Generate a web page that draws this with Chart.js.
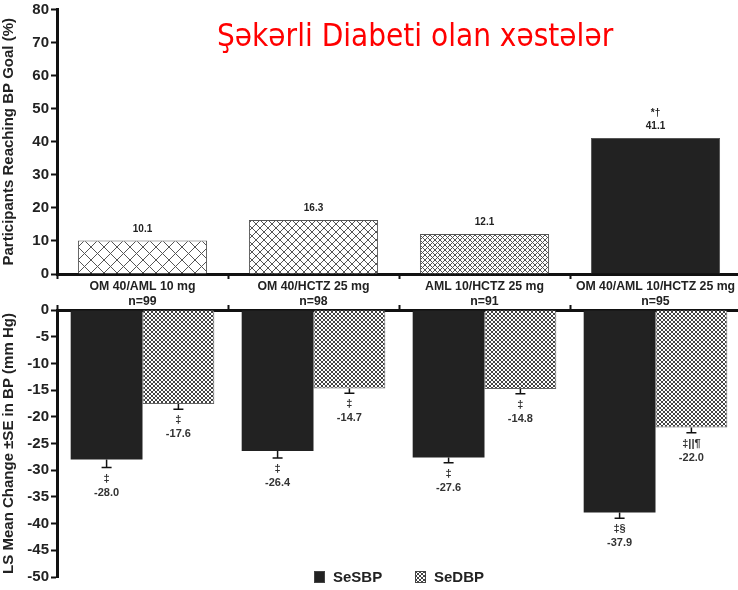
<!DOCTYPE html>
<html>
<head>
<meta charset="utf-8">
<script src="https://cdn.jsdelivr.net/npm/chart.js@4.4.1/dist/chart.umd.min.js"></script>
<style>
  body { margin: 0; width: 738px; height: 590px; overflow: hidden; background: #fff; position: relative; }
  #goal { position: absolute; left: 0; top: 0; }
  #change { position: absolute; left: 0; top: 300px; }
  #titulo { position: absolute; left: 217px; top: 17px; color: #ff0000; font: 31.2px "DejaVu Sans Condensed", "DejaVu Sans", sans-serif; white-space: nowrap; }
</style>
</head>
<body>
<canvas id="goal" width="744" height="310"></canvas>
<canvas id="change" width="744" height="290"></canvas>
<div id="titulo">Şəkərli Diabeti olan xəstələr</div>
<script>
// grupos de tratamiento
const groups = [
  ['OM 40/AML 10 mg', 'n=99'],
  ['OM 40/HCTZ 25 mg', 'n=98'],
  ['AML 10/HCTZ 25 mg', 'n=91'],
  ['OM 40/AML 10/HCTZ 25 mg', 'n=95']
];

// % que llega a la meta de PA
const goalPct = [10.1, 16.3, 12.1, 41.1];
const goalMarks = ['', '', '', '*†'];

// cambio medio (mm Hg) y error estándar
const sbpChange = [-28.0, -26.4, -27.6, -37.9];
const sbpSE = [1.5, 1.3, 1.0, 1.1];
const sbpMarks = ['‡', '‡', '‡', '‡§'];

const dbpChange = [-17.6, -14.7, -14.8, -22.0];
const dbpSE = [1.0, 0.9, 0.9, 1.0];
const dbpMarks = ['‡', '‡', '‡', '‡||¶'];

const goalTicks = { min: 0, max: 80, step: 10 };
const changeTicks = { min: -50, max: 0, step: 5 };

const ink = '#222';
const fontFam = '"Liberation Sans", Arial, sans-serif';

function hatch(step, color, width) {
  const c = document.createElement('canvas');
  c.width = c.height = step;
  const g = c.getContext('2d');
  g.fillStyle = '#fff';
  g.fillRect(0, 0, step, step);
  g.strokeStyle = color;
  g.lineWidth = width;
  g.beginPath();
  g.moveTo(0, 0); g.lineTo(step, step);
  g.moveTo(step, 0); g.lineTo(0, step);
  g.stroke();
  return g.createPattern(c, 'repeat');
}

const goalFill = [hatch(13, '#555', 1), hatch(8, '#555', 1), hatch(5, '#555', 1), ink];
const dbpFill = hatch(4, '#444', 1);

function yAxis(t, title) {
  return {
    min: t.min, max: t.max,
    ticks: { stepSize: t.step, padding: 2, color: ink, font: { family: fontFam, size: 15, weight: 'bold', lineHeight: 1 } },
    grid: { drawOnChartArea: false, tickLength: 6, tickWidth: 2, tickColor: '#111' },
    border: { width: 3, color: '#111' },
    title: { display: true, text: title, color: ink, padding: 0, font: { family: fontFam, size: 15, weight: 'bold' } },
    afterFit(scale) { scale.width = 57; }
  };
}

// etiquetas encima de las barras (arriba)
const goalLabels = {
  id: 'goalLabels',
  afterDatasetsDraw(chart) {
    const ctx = chart.ctx;
    const ds = chart.data.datasets[0];
    ctx.save();
    ctx.fillStyle = ink;
    ctx.textAlign = 'center';
    ctx.font = 'bold 10px ' + fontFam;
    chart.getDatasetMeta(0).data.forEach((bar, i) => {
      ctx.fillText(ds.data[i].toFixed(1), bar.x, bar.y - 9);
      if (ds.marks[i]) ctx.fillText(ds.marks[i], bar.x, bar.y - 22);
    });
    ctx.restore();
  }
};

// barras de error + simbolos + valores (abajo)
const errorBars = {
  id: 'errorBars',
  afterDatasetsDraw(chart) {
    const ctx = chart.ctx;
    const y = chart.scales.y;
    ctx.save();
    ctx.textAlign = 'center';
    ctx.font = 'bold 11px ' + fontFam;
    chart.data.datasets.forEach((ds, di) => {
      chart.getDatasetMeta(di).data.forEach((bar, i) => {
        const v = ds.data[i];
        const lo = y.getPixelForValue(v - ds.se[i]);
        ctx.strokeStyle = '#111';
        ctx.lineWidth = 1.5;
        ctx.beginPath();
        ctx.moveTo(bar.x, bar.y);
        ctx.lineTo(bar.x, lo);
        ctx.moveTo(bar.x - 5, lo);
        ctx.lineTo(bar.x + 5, lo);
        ctx.stroke();
        ctx.fillStyle = '#333';
        ctx.fillText(ds.marks[i], bar.x, lo + 14);
        ctx.fillText(v.toFixed(1), bar.x, lo + 28);
      });
    });
    ctx.restore();
  }
};

// leyenda dentro del area
const boxLegend = {
  id: 'boxLegend',
  afterDraw(chart) {
    const ctx = chart.ctx;
    const a = chart.chartArea;
    let x = a.left + 257;
    const yc = a.bottom;
    ctx.save();
    ctx.font = 'bold 15px ' + fontFam;
    ctx.textBaseline = 'middle';
    chart.data.datasets.forEach(ds => {
      ctx.fillStyle = ds.backgroundColor;
      ctx.fillRect(x, yc - 6, 11, 12);
      ctx.strokeStyle = '#444';
      ctx.lineWidth = 1;
      ctx.strokeRect(x + 0.5, yc - 5.5, 10, 11);
      ctx.fillStyle = ink;
      ctx.fillText(ds.label, x + 19, yc + 1);
      x += 101;
    });
    ctx.restore();
  }
};

new Chart(document.getElementById('goal'), {
  type: 'bar',
  data: {
    labels: groups,
    datasets: [{
      data: goalPct,
      marks: goalMarks,
      backgroundColor: goalFill,
      borderColor: '#555',
      borderWidth: 1,
      categoryPercentage: 0.755,
      barPercentage: 1
    }]
  },
  options: {
    responsive: false,
    animation: false,
    layout: { padding: { top: 0, right: 3, left: 0, bottom: 0 } },
    plugins: { legend: { display: false }, tooltip: { enabled: false } },
    scales: {
      x: {
        offset: true,
        ticks: { padding: 1, autoSkip: false, maxRotation: 0, minRotation: 0, color: ink, font: { family: fontFam, size: 12.3, weight: 'bold', lineHeight: 1.15 } },
        grid: { offset: true, drawOnChartArea: false, tickLength: 5, tickWidth: 2, tickColor: '#111' },
        border: { width: 3, color: '#111' },
        afterFit(scale) { scale.height = 36; }
      },
      y: yAxis(goalTicks, 'Participants Reaching BP Goal (%)')
    }
  },
  plugins: [goalLabels]
});

new Chart(document.getElementById('change'), {
  type: 'bar',
  data: {
    labels: groups,
    datasets: [{
      label: 'SeSBP',
      data: sbpChange,
      se: sbpSE,
      marks: sbpMarks,
      backgroundColor: ink,
      borderColor: ink,
      borderWidth: 0,
      categoryPercentage: 0.84,
      barPercentage: 1
    }, {
      label: 'SeDBP',
      data: dbpChange,
      se: dbpSE,
      marks: dbpMarks,
      backgroundColor: dbpFill,
      borderColor: '#666',
      borderWidth: 1,
      categoryPercentage: 0.84,
      barPercentage: 1
    }]
  },
  options: {
    responsive: false,
    animation: false,
    layout: { padding: { top: 0, right: 3, left: 0, bottom: 13 } },
    plugins: { legend: { display: false }, tooltip: { enabled: false } },
    scales: {
      x: {
        position: 'top',
        offset: true,
        ticks: { display: false },
        grid: { offset: true, drawOnChartArea: false, tickLength: 5, tickWidth: 2, tickColor: '#111' },
        border: { width: 3, color: '#111' },
        afterFit(scale) { scale.height = 10; }
      },
      y: yAxis(changeTicks, 'LS Mean Change ±SE in BP (mm Hg)')
    }
  },
  plugins: [errorBars, boxLegend]
});
</script>
</body>
</html>
